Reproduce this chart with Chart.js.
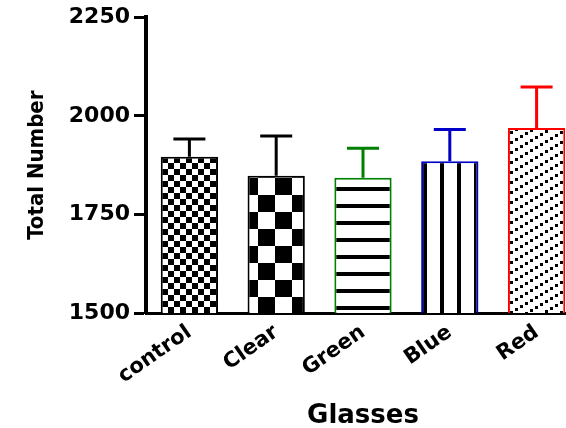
<!DOCTYPE html>
<html>
<head>
<meta charset="utf-8">
<script src="https://cdn.jsdelivr.net/npm/chart.js@4.4.1/dist/chart.umd.min.js"></script>
<style>
  html, body { margin: 0; padding: 0; background: #fff; overflow: hidden; }
  canvas { display: block; }
</style>
</head>
<body>
<canvas id="glassesChart" width="580" height="428"></canvas>
<script>
// Datos
const categories = ['control', 'Clear', 'Green', 'Blue', 'Red'];
const meanCounts = [1896, 1848, 1843, 1885, 1969];
const semCounts = [45, 101, 75, 80, 104];
const yTicks = [1500, 1750, 2000, 2250];
const edgeColors = ['#000000', '#000000', '#008000', '#0000c8', '#ff0000'];
const fillKinds = ['smallChecker', 'bigChecker', 'hStripes', 'vStripes', 'diagDash'];

// Tramas de relleno para cada barra
function makePattern(kind) {
    const c = document.createElement('canvas');
    const g = c.getContext('2d');
    let shift = [0, 0];
    if (kind === 'smallChecker') {
        c.width = c.height = 12;
        g.fillStyle = '#fff'; g.fillRect(0, 0, 12, 12);
        g.fillStyle = '#000';
        g.fillRect(0, 0, 6, 6); g.fillRect(6, 6, 6, 6);
        shift = [162, 157];
    } else if (kind === 'bigChecker') {
        c.width = c.height = 34;
        g.fillStyle = '#fff'; g.fillRect(0, 0, 34, 34);
        g.fillStyle = '#000';
        g.fillRect(0, 0, 17, 17); g.fillRect(17, 17, 17, 17);
        shift = [3, 8];
    } else if (kind === 'hStripes') {
        c.width = 10; c.height = 17;
        g.fillStyle = '#fff'; g.fillRect(0, 0, 10, 17);
        g.fillStyle = '#000'; g.fillRect(0, 0, 10, 4);
    } else if (kind === 'vStripes') {
        c.width = 17; c.height = 10;
        g.fillStyle = '#fff'; g.fillRect(0, 0, 17, 10);
        g.fillStyle = '#000'; g.fillRect(0, 0, 4, 10);
        shift = [15, 0];
    } else {
        // lineas diagonales discontinuas: paso (5,-3), separacion vertical 10
        c.width = 50; c.height = 10;
        g.fillStyle = '#fff'; g.fillRect(0, 0, 50, 10);
        g.fillStyle = '#000';
        for (let k = 0; k < 10; k++) {
            const y = ((7 - 3 * k) % 10 + 10) % 10;
            g.fillRect(5 * k, y, 3, 3);
            if (y > 7) g.fillRect(5 * k, y - 10, 3, 3);
        }
    }
    const p = g.createPattern(c, 'repeat');
    p.setTransform(new DOMMatrix().translate(shift[0], shift[1]));
    return p;
}

// Barras de error (solo hacia arriba)
const errorBars = {
    id: 'errorBars',
    afterDatasetsDraw(chart) {
        const ctx = chart.ctx;
        const yScale = chart.scales.y;
        chart.getDatasetMeta(0).data.forEach((bar, i) => {
            const top = yScale.getPixelForValue(meanCounts[i] + semCounts[i]);
            ctx.save();
            ctx.strokeStyle = edgeColors[i];
            ctx.lineWidth = 3;
            ctx.beginPath();
            ctx.moveTo(bar.x, bar.y);
            ctx.lineTo(bar.x, top);
            ctx.moveTo(bar.x - 16, top);
            ctx.lineTo(bar.x + 16, top);
            ctx.stroke();
            ctx.restore();
        });
    }
};

const tickFont = { family: 'DejaVu Sans', weight: 'bold', size: 22 };

const config = {
    type: 'bar',
    data: {
        labels: categories,
        datasets: [{
            data: meanCounts,
            backgroundColor: fillKinds.map(makePattern),
            borderColor: edgeColors,
            borderWidth: 2,
            barPercentage: 0.66,
            categoryPercentage: 1
        }]
    },
    options: {
        responsive: false,
        animation: false,
        layout: { padding: { top: 16, left: 0, right: 0, bottom: 0 } },
        plugins: {
            legend: { display: false },
            tooltip: { enabled: false }
        },
        scales: {
            x: {
                grid: { drawOnChartArea: false, drawTicks: false },
                border: { color: '#000', width: 3 },
                ticks: {
                    color: '#000',
                    font: { family: 'DejaVu Sans', weight: 'bold', size: 21 },
                    minRotation: 35,
                    maxRotation: 35,
                    padding: 7
                },
                title: {
                    display: true,
                    text: 'Glasses',
                    color: '#000',
                    font: { family: 'DejaVu Sans', weight: 'bold', size: 26 },
                    padding: { top: 0, bottom: -4 }
                },
                afterFit(scale) { scale.height = 115; }
            },
            y: {
                min: 1500,
                max: 2250,
                afterBuildTicks(scale) { scale.ticks = yTicks.map(v => ({ value: v })); },
                grid: { drawOnChartArea: false, tickLength: 12, tickWidth: 3, tickColor: '#000' },
                border: { color: '#000', width: 4 },
                ticks: {
                    color: '#000',
                    font: tickFont,
                    padding: 4,
                    callback: v => String(v)
                },
                title: {
                    display: true,
                    text: 'Total Number',
                    color: '#000',
                    font: { family: "'DejaVu Sans Condensed', 'Liberation Sans', sans-serif", weight: 'bold', size: 22 },
                    padding: { top: 24, bottom: 0 }
                },
                afterFit(scale) { scale.width = 146; }
            }
        }
    },
    plugins: [errorBars]
};

const glassesChart = new Chart(document.getElementById('glassesChart'), config);
</script>
</body>
</html>
